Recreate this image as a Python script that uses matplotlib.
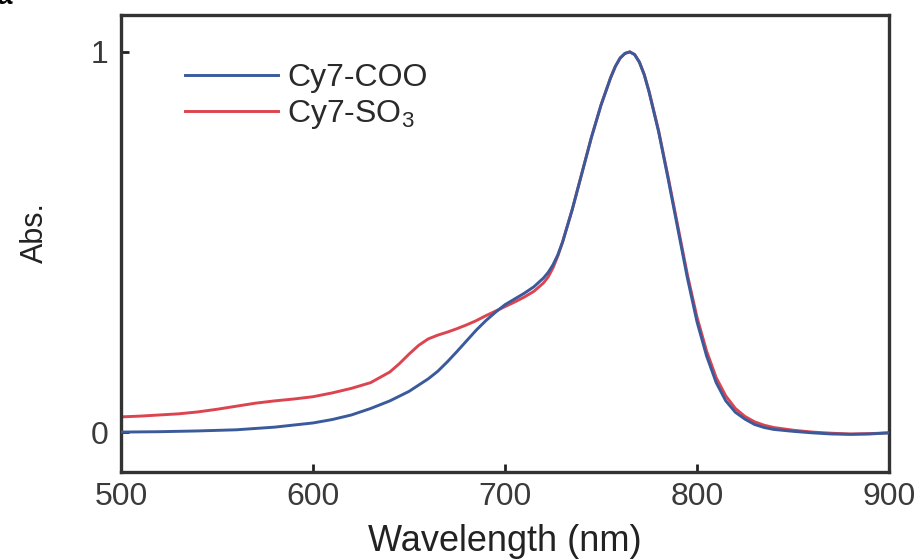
import numpy as np
import matplotlib.pyplot as plt

plt.rcParams['font.family'] = ['Liberation Sans', 'DejaVu Sans']
plt.rcParams['mathtext.fontset'] = 'custom'
plt.rcParams['mathtext.rm'] = 'Liberation Sans'

# absorbance spectra
wl_coo = [500, 520, 540, 560, 580, 600, 610, 620, 630, 640, 650, 660, 665, 670,
          675, 680, 685, 690, 695, 700, 705, 710, 715, 720, 722.5, 725, 727.5,
          730, 735, 740, 745, 750, 755, 757.5, 760, 762.5, 765, 767.5, 770, 772.5,
          775, 780, 785, 790, 795, 800, 805, 810, 815, 820, 825, 830, 835, 840,
          850, 860, 870, 880, 890, 900]
abs_coo = [0.000, 0.001, 0.003, 0.006, 0.013, 0.024, 0.033, 0.045, 0.062, 0.082,
           0.107, 0.140, 0.160, 0.185, 0.212, 0.240, 0.268, 0.293, 0.315, 0.335,
           0.350, 0.365, 0.382, 0.405, 0.420, 0.440, 0.466, 0.500, 0.585, 0.680,
           0.775, 0.860, 0.932, 0.962, 0.984, 0.996, 1.000, 0.993, 0.973, 0.940,
           0.895, 0.790, 0.665, 0.535, 0.405, 0.290, 0.200, 0.130, 0.082, 0.052,
           0.034, 0.020, 0.012, 0.007, 0.002, -0.002, -0.005, -0.006, -0.005,
           -0.002]

wl_so3 = [500, 510, 520, 530, 540, 550, 560, 570, 580, 590, 600, 610, 620, 630,
          640, 645, 650, 655, 660, 665, 670, 675, 680, 685, 690, 695, 700, 705,
          710, 715, 720, 722.5, 725, 727.5, 730, 735, 740, 745, 750, 755, 757.5,
          760, 762.5, 765, 767.5, 770, 772.5, 775, 780, 785, 790, 795, 800, 805,
          810, 815, 820, 825, 830, 835, 840, 850, 860, 870, 880, 890, 900]
abs_so3 = [0.040, 0.042, 0.045, 0.048, 0.053, 0.060, 0.068, 0.076, 0.082, 0.087,
           0.093, 0.103, 0.115, 0.130, 0.158, 0.180, 0.205, 0.228, 0.245, 0.255,
           0.263, 0.272, 0.282, 0.293, 0.306, 0.318, 0.330, 0.342, 0.355, 0.370,
           0.392, 0.408, 0.432, 0.463, 0.500, 0.585, 0.680, 0.775, 0.860, 0.932,
           0.962, 0.984, 0.996, 1.000, 0.993, 0.973, 0.941, 0.897, 0.793, 0.670,
           0.542, 0.414, 0.302, 0.213, 0.143, 0.095, 0.062, 0.041, 0.027, 0.018,
           0.012, 0.005, 0.000, -0.003, -0.005, -0.004, -0.002]

fig = plt.figure(figsize=(9.23, 5.59), dpi=100)
ax = fig.add_axes([121/923, 1-472/559, (889-121)/923, (472-15)/559])

ax.plot(wl_so3, abs_so3, color='#dc4450', lw=2.1, label=r'Cy7-SO$_\mathregular{3}$', zorder=2)
ax.plot(wl_coo, abs_coo, color='#3a5a9c', lw=2.1, label='Cy7-COO', zorder=3)

ax.set_xlim(500, 900)
ax.set_ylim(-0.105, 1.097)
ax.set_xticks([500, 600, 700, 800, 900])
ax.set_yticks([0, 1])
ax.set_yticklabels(['0', '1'])

for s in ax.spines.values():
    s.set_linewidth(2.4)
    s.set_color('#333333')
ax.tick_params(direction='in', length=6, width=2, colors='#222222',
               labelsize=23, labelcolor='#3a3a3a')
ax.tick_params(axis='x', pad=7)
ax.tick_params(axis='y', pad=9)

ax.set_xlabel('Wavelength (nm)', fontsize=26, color='#222222', labelpad=9)
ax.set_ylabel('Abs.', fontsize=22, color='#222222')
ax.yaxis.set_label_coords(-0.093, 0.525)

h, l = ax.get_legend_handles_labels()
ax.legend(h[::-1], l[::-1], loc='upper left', bbox_to_anchor=(0.046, 0.958),
          frameon=False, fontsize=23, handlelength=2.9, handletextpad=0.3,
          labelspacing=0.15, labelcolor='#2a2a2a')

fig.text(-0.004, 1.005, 'a', fontsize=20, fontweight='bold', va='center', ha='left')

fig.savefig('out.png', dpi=100)
